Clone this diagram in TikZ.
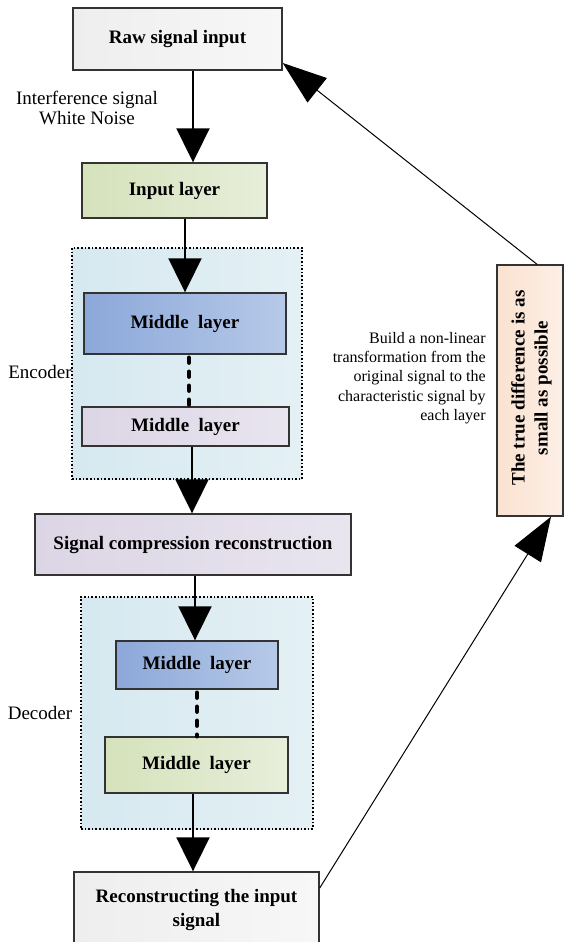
\documentclass[tikz,border=0pt]{standalone}
\usepackage{fontspec}
\setmainfont{Liberation Serif}
\usepackage{tikz}
\usetikzlibrary{arrows.meta}
\definecolor{grayL}{HTML}{EEEEEE}
\definecolor{grayR}{HTML}{F7F7F7}
\definecolor{greenL}{HTML}{D5E2BB}
\definecolor{greenR}{HTML}{E7EEDA}
\definecolor{blueL}{HTML}{8CA8D9}
\definecolor{blueR}{HTML}{B6C9E8}
\definecolor{lavL}{HTML}{DCD5E5}
\definecolor{lavR}{HTML}{E9E5EF}
\definecolor{encL}{HTML}{D6E9F0}
\definecolor{encR}{HTML}{E4F0F4}
\definecolor{peachL}{HTML}{FBE2D1}
\definecolor{peachR}{HTML}{FCEFE6}

\begin{document}
\begin{tikzpicture}[x=0.5pt,y=-0.5pt,
  box/.style={rectangle,draw=black!80,line width=0.7pt,inner sep=2pt,align=center,font=\fontsize{9.5}{12}\selectfont\bfseries},
  group/.style={rectangle,draw=black,line width=0.8pt,densely dotted,left color=encL,right color=encR},
  flow/.style={-{Triangle[width=16.5pt,length=17pt]},line width=1pt},
  fb/.style={-{Triangle[width=15.5pt,length=22pt]},line width=0.5pt},
  dots/.style={line width=2.2pt,line cap=round,dash pattern=on 2.5pt off 4.5pt},
  tag/.style={font=\fontsize{9.5}{10}\selectfont,align=center,inner sep=0pt}]
\useasboundingbox (0,0) rectangle (564,942);
\node[group,minimum width=115pt,minimum height=115.5pt] (enc) at (187,363.5) {};
\node[group,minimum width=116pt,minimum height=116pt] (dec) at (197,713) {};
\node[box,left color=grayL,right color=grayR,minimum width=104.5pt,minimum height=31pt] (raw) at (177.5,39) {Raw signal input};
\node[box,left color=greenL,right color=greenR,minimum width=92.5pt,minimum height=27.5pt] (input) at (174.5,190.5) {Input layer};
\node[box,left color=blueL,right color=blueR,minimum width=101pt,minimum height=30.5pt] (emid1) at (185,323.5) {Middle~ layer};
\node[box,left color=lavL,right color=lavR,minimum width=103.5pt,minimum height=19.5pt] (emid2) at (185.5,426.5) {Middle~ layer};
\node[box,left color=lavL,right color=lavR,minimum width=158pt,minimum height=30.5pt] (comp) at (193,544.5) {Signal compression reconstruction};
\node[box,left color=blueL,right color=blueR,minimum width=81pt,minimum height=24pt] (dmid1) at (197,665) {Middle~ layer};
\node[box,left color=greenL,right color=greenR,minimum width=91.5pt,minimum height=28pt] (dmid2) at (196.5,765) {Middle~ layer};
\node[box,left color=grayL,right color=grayR,minimum width=122.5pt,minimum height=38pt] (recon) at (196.5,910) {Reconstructing the input\\signal};
\node[box,left color=peachL,right color=peachR,minimum width=33pt,minimum height=125.5pt] (diff) at (530,390.5) {};
\node[rotate=90,align=center,inner sep=0pt,font=\fontsize{9.5}{11.5}\selectfont\bfseries] (difftext) at (531.5,388) {The true difference is as\\small as possible};
\node[tag] (noise) at (87,108) {Interference signal\\White Noise};
\node[tag] (enclabel) at (40,372) {Encoder};
\node[tag] (declabel) at (40,713) {Decoder};
\node[anchor=east,align=right,inner sep=0pt,font=\fontsize{8}{9.65}\selectfont] (note) at (486,378) {Build a non-linear\\transformation from the\\original signal to the\\characteristic signal by\\each layer};
\draw[flow] ([xshift=7.75pt]raw.south) -- ([xshift=9.25pt]input.north);
\draw[flow] (input.south -| emid1.north) -- (emid1.north);
\draw[dots] ([xshift=2pt,yshift=-1.5pt]emid1.south) -- ([xshift=1.75pt]emid2.north);
\draw[flow] ([xshift=3.25pt]emid2.south) -- ([xshift=-0.5pt]comp.north);
\draw[flow] ([xshift=1pt]comp.south) -- ([xshift=-1pt]dmid1.north);
\draw[dots] ([yshift=-1.5pt]dmid1.south) -- ([xshift=0.25pt]dmid2.north);
\draw[flow] ([xshift=-1.75pt]dmid2.south) -- ([xshift=-1.75pt]recon.north);
\draw[fb] ([yshift=11pt]recon.east) -- ([xshift=10.5pt]diff.south);
\draw[fb] ([xshift=3.5pt]diff.north) -- ([yshift=-12pt]raw.east);
\end{tikzpicture}
\end{document}
